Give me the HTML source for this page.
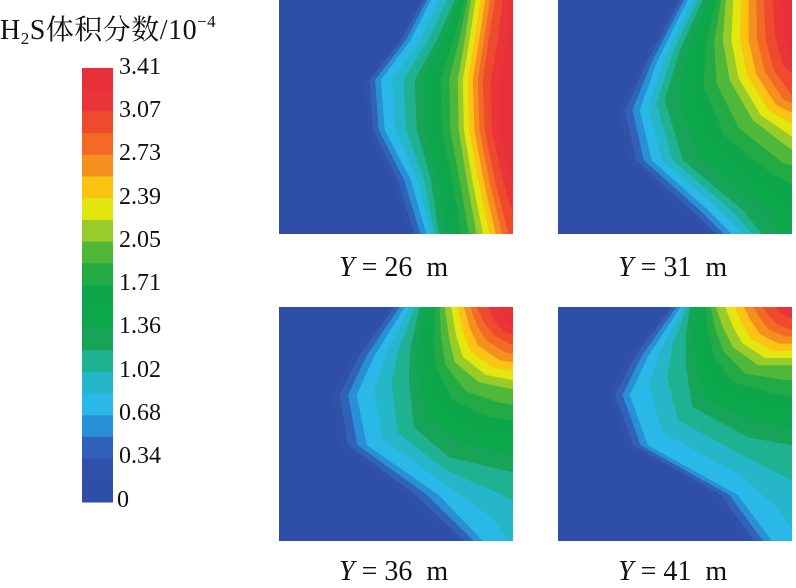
<!DOCTYPE html>
<html><head><meta charset="utf-8">
<style>
body{margin:0;background:#fff;width:796px;height:587px;overflow:hidden;position:relative;font-family:"Liberation Serif","Noto Serif CJK SC",serif;}
.t{position:absolute;color:#111;white-space:nowrap;}
.lab{font-size:24px;left:119px;}
.cap{font-size:28px;}
</style></head><body>
<div class="t" style="left:0px;top:8px;font-size:28px;letter-spacing:0.5px">H<sub style="font-size:17px;vertical-align:-5px">2</sub>S体积分数/10<sup style="font-size:17px;vertical-align:12px">−4</sup></div>
<svg id="cb" width="796" height="587" style="position:absolute;left:0;top:0"></svg>
<div class="t lab" style="top:54px">3.41</div>
<div class="t lab" style="top:97px">3.07</div>
<div class="t lab" style="top:140px">2.73</div>
<div class="t lab" style="top:184px">2.39</div>
<div class="t lab" style="top:227px">2.05</div>
<div class="t lab" style="top:270px">1.71</div>
<div class="t lab" style="top:313px">1.36</div>
<div class="t lab" style="top:357px">1.02</div>
<div class="t lab" style="top:400px">0.68</div>
<div class="t lab" style="top:443px">0.34</div>
<div class="t lab" style="top:487px;left:117px">0</div>
<div class="t cap" style="left:339px;top:252px"><i>Y</i> = 26&nbsp; m</div>
<div class="t cap" style="left:618px;top:252px"><i>Y</i> = 31&nbsp; m</div>
<div class="t cap" style="left:339px;top:556px"><i>Y</i> = 36&nbsp; m</div>
<div class="t cap" style="left:618px;top:556px"><i>Y</i> = 41&nbsp; m</div>
<script>
var C=["#2f4ea8","#3150a8","#2f62b8","#2a90d6","#2ab8e8","#25b7c9","#1fb292","#18a458","#0ea84c","#0ea64a","#22ab44","#4fb83a","#97cc2a","#e3e70f","#fbc413","#f5901f","#f26a25","#ef4a2e","#ea3538","#e8303a"];
var s=document.getElementById('cb'),h='';
for(var i=0;i<20;i++){h+='<rect x="82" y="'+(68+i*21.7).toFixed(1)+'" width="31" height="22.2" fill="'+C[19-i]+'"/>';}
function Y(xs){var ys=[-50,0,40,80,130,180,235,290];return xs.map(function(x,i){return [x,ys[i]]});}
var P=[
{x:279,y:0,c:[
Y([140,140,118,85,88,112,130,137]),
Y([152,152,132,102,106,132,148,155]),
Y([180,176,158,136,138,152,160,163]),
Y([196,192,186,179,180,188,198,203]),
Y([222,216,210,204,206,216,230,240]),
Y([240,232,228,220,220,232,250,260])]},
{x:558,y:0,c:[
[[120,-50],[118,0],[85,60],[60,110],[70,160],[125,210],[152,235],[170,300]],
[[132,-50],[130,0],[100,60],[82,110],[94,160],[150,210],[175,235],[190,300]],
[[148,-50],[145,0],[122,50],[107,100],[125,160],[185,210],[205,235],[215,300]],
[[170,-50],[168,0],[165,40],[172,80],[195,120],[234,150],[260,155],[300,160]],
[[208,-50],[206,0],[208,40],[216,70],[234,95],[260,100],[280,100],[300,100]],
[[226,-50],[224,0],[226,30],[234,60],[250,65],[270,65],[280,65],[300,65]]]},
{x:279,y:307,c:[
[[112,-50],[110,0],[72,50],[52,88],[60,138],[125,188],[178,235],[195,300]],
[[128,-50],[126,0],[95,50],[78,88],[88,138],[160,188],[205,235],[215,300]],
[[142,-50],[141,0],[132,40],[130,70],[135,120],[170,150],[234,165],[300,170]],
[[166,-50],[166,0],[170,30],[176,55],[200,75],[234,82],[260,84],[300,85]],
[[200,-50],[198,0],[205,15],[215,28],[234,38],[250,40],[270,40],[300,40]],
[[222,-50],[220,0],[226,12],[234,20],[250,22],[260,22],[280,22],[300,22]]]},
{x:558,y:307,c:[
[[112,-50],[110,0],[70,50],[50,88],[68,138],[155,188],[188,235],[200,300]],
[[125,-50],[123,0],[90,50],[72,88],[90,138],[180,188],[215,235],[225,300]],
[[132,-50],[132,0],[128,30],[128,60],[135,100],[190,130],[234,138],[300,140]],
[[158,-50],[158,0],[165,20],[175,40],[200,58],[234,58],[260,58],[300,58]],
[[205,-50],[205,0],[212,10],[220,18],[234,22],[250,22],[270,22],[300,22]],
[[232,-50],[230,0],[236,4],[250,5],[260,5],[270,5],[280,5],[300,5]]]}];
var K=[1,4,7,12,17,19];
P.forEach(function(p,pi){
 var cs=p.c,N=cs[0].length;
 h+='<clipPath id="cp'+pi+'"><rect x="'+p.x+'" y="'+p.y+'" width="234" height="234"/></clipPath><g clip-path="url(#cp'+pi+')"><rect x="'+p.x+'" y="'+p.y+'" width="234" height="234" fill="'+C[0]+'"/>';
 for(var k=1;k<20;k++){
  var a=0;while(a<K.length-2&&K[a+1]<k)a++;
  var t=(k-K[a])/(K[a+1]-K[a]);t=Math.max(0,Math.min(1,t));
  var A=cs[a],B=cs[a+1],pts=[];
  for(var i=0;i<N;i++)pts.push([A[i][0]+t*(B[i][0]-A[i][0])+p.x,A[i][1]+t*(B[i][1]-A[i][1])+p.y]);
  var last=pts[N-1],first=pts[0];
  pts.push([p.x+600,last[1]],[p.x+600,p.y-100],[first[0],p.y-100]);
  h+='<polygon stroke-linejoin="round" stroke="'+C[k]+'" stroke-width="0.5" fill="'+C[k]+'" points="'+pts.map(function(q){return q[0].toFixed(1)+','+q[1].toFixed(1)}).join(' ')+'"/>';
 }
 h+='</g>';
});
s.innerHTML=h;
</script>
</body></html>
